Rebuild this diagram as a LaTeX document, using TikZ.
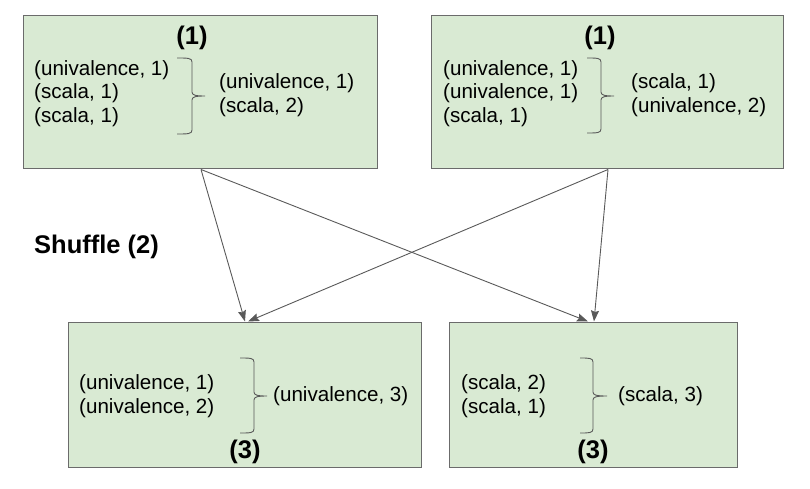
\documentclass[tikz,border=0pt]{standalone}
\usepackage{fontspec}
\setmainfont{Liberation Sans}
\usetikzlibrary{arrows.meta}
\definecolor{boxfill}{HTML}{D9EAD3}
\definecolor{boxline}{HTML}{6B6B6B}
\definecolor{arrline}{HTML}{595959}
\definecolor{braceline}{HTML}{595959}
\newcommand{\drawbrace}[6]{% x0, xv, xt, ytop, ymid, ybot
  \draw[bracestyle] (#1,#4) .. controls (#2-4,#4) and (#2,#4) .. (#2,#4+4)
    -- (#2,#5-4) .. controls (#2,#5-1) and (#2+3,#5) .. (#3,#5)
    .. controls (#2+3,#5) and (#2,#5+1) .. (#2,#5+4)
    -- (#2,#6-4) .. controls (#2,#6) and (#2-4,#6) .. (#1,#6);}
\begin{document}
\begin{tikzpicture}[x=1pt,y=-1pt,
  box/.style={draw=boxline,fill=boxfill,line width=1pt,inner sep=0pt},
  txt/.style={font=\fontsize{20.6}{23.5}\selectfont,align=left,inner sep=0pt,anchor=west},
  ttl/.style={font=\fontsize{25.5}{28}\selectfont\bfseries,inner sep=0pt},
  bracestyle/.style={draw=braceline,line width=0.9pt},
  arr/.style={draw=arrline,line width=0.9pt,-{Stealth[length=11pt,width=8pt,inset=1.5pt]}}]
\useasboundingbox (0,0) rectangle (810,489);
% boxes
\node[box,minimum width=354pt,minimum height=153pt] (tl) at (200,92.5) {};
\node[box,minimum width=352pt,minimum height=153pt] (tr) at (607,92.5) {};
\node[box,minimum width=353pt,minimum height=145pt] (bl) at (245,394.5) {};
\node[box,minimum width=288pt,minimum height=145pt] (br) at (593,394.5) {};
% top-left content
\node[ttl] (t1) at (192,38) {(1)};
\node[txt] (tla) at (34,93.5) {(univalence, 1)\\(scala, 1)\\(scala, 1)};
\node[txt] (tlb) at (219,95) {(univalence, 1)\\(scala, 2)};
\drawbrace{177}{192}{205}{58}{96}{134}
% top-right content
\node[ttl] (t2) at (600,38) {(1)};
\node[txt] (tra) at (443,93.5) {(univalence, 1)\\(univalence, 1)\\(scala, 1)};
\node[txt] (trb) at (631,95) {(scala, 1)\\(univalence, 2)};
\drawbrace{587}{601}{614}{58}{96}{133}
% bottom-left content
\node[txt] (bla) at (79,396) {(univalence, 1)\\(univalence, 2)};
\node[txt] (blb) at (273,396) {(univalence, 3)};
\drawbrace{240}{254}{267}{358}{396}{433}
\node[ttl] (t3) at (245,452) {(3)};
% bottom-right content
\node[txt] (bra) at (461,396) {(scala, 2)\\(scala, 1)};
\node[txt] (brb) at (618,396) {(scala, 3)};
\drawbrace{580}{593}{607}{358}{396}{433}
\node[ttl] (t4) at (593,452) {(3)};
% shuffle label
\node[ttl,anchor=west] (sh) at (34,247) {Shuffle (2)};
% connectors
\coordinate (s1) at ([xshift=1pt]tl.south);
\coordinate (s2) at ([xshift=1pt]tr.south);
\coordinate (e1) at (bl.north);
\coordinate (e2) at ([xshift=3pt]bl.north);
\coordinate (e3) at ([xshift=-5pt]br.north);
\coordinate (e4) at ([xshift=1pt]br.north);
\draw[arr] (s1) -- (e1);
\draw[arr] (s1) -- (e3);
\draw[arr] (s2) -- (e2);
\draw[arr] (s2) -- (e4);
\end{tikzpicture}
\end{document}
